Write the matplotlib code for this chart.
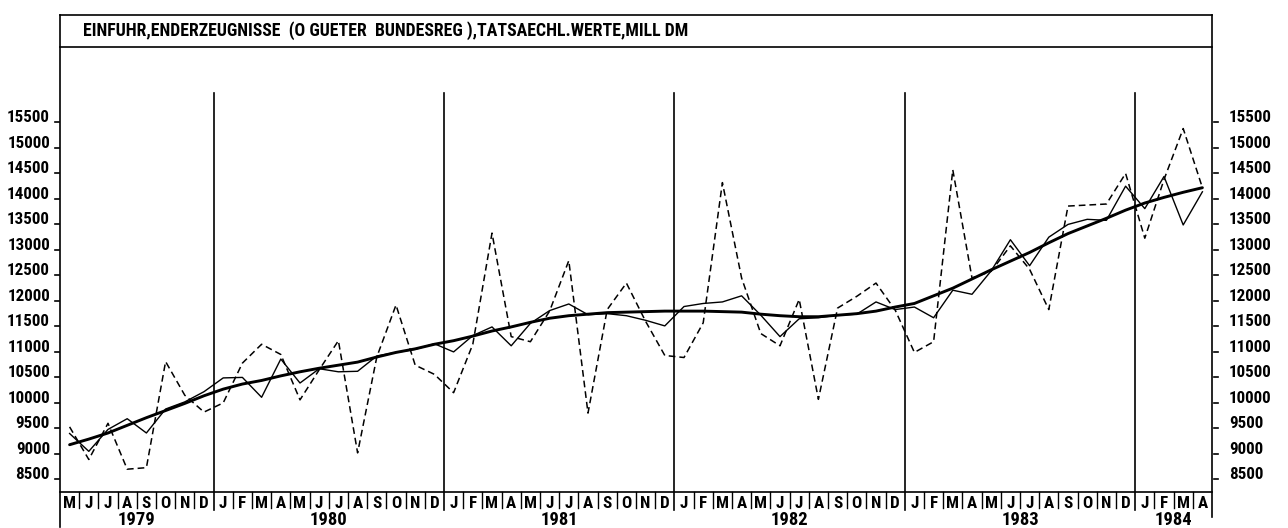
import numpy as np
import matplotlib
matplotlib.use("Agg")
import matplotlib.pyplot as plt
from matplotlib import font_manager as fm, transforms
from matplotlib.lines import Line2D

# ---------------- data ----------------
title = "EINFUHR,ENDERZEUGNISSE  (O GUETER  BUNDESREG ),TATSAECHL.WERTE,MILL DM"
month_labels = list("MJJASOND" + "JFMAMJJASOND" * 4 + "JFMA")
start_month = 5          # May 1979
years = [1979, 1980, 1981, 1982, 1983, 1984]
y_ticks = [8500, 9000, 9500, 10000, 10500, 11000, 11500, 12000,
           12500, 13000, 13500, 14000, 14500, 15000, 15500]

# actual values (dashed)
raw = [9530, 8890, 9600, 8700, 8730, 10810, 10150, 9820,
       10000, 10780, 11150, 10950, 10060, 10650, 11220, 9020, 10900, 11920, 10740, 10560,
       10200, 11150, 13330, 11300, 11200, 11800, 12790, 9800, 11830, 12350, 11600, 10930,
       10890, 11570, 14320, 12450, 11360, 11120, 12030, 10070, 11860, 12090, 12350, 11820,
       10990, 11200, 14570, 12450, 12580, 13080, 12620, 11830, 13860, 13880, 13900, 14500,
       13230, 14380, 15380, 14220]
# seasonally adjusted (thin solid)
adj = [9400, 9050, 9480, 9690, 9410, 9880, 10020, 10220,
       10490, 10500, 10110, 10860, 10390, 10670, 10610, 10620, 10920, 10990, 11050, 11160,
       11000, 11320, 11490, 11120, 11560, 11810, 11940, 11730, 11750, 11710, 11620, 11510,
       11890, 11950, 11980, 12100, 11720, 11300, 11650, 11670, 11720, 11740, 11980, 11830,
       11880, 11670, 12210, 12130, 12590, 13200, 12690, 13250, 13500, 13600, 13580, 14250,
       13810, 14440, 13490, 14140]
# trend (thick solid)
trend = [9180, 9290, 9410, 9560, 9710, 9850, 9990, 10140,
         10270, 10370, 10440, 10530, 10610, 10680, 10740, 10800, 10900, 10990, 11060, 11150,
         11220, 11310, 11410, 11490, 11580, 11660, 11710, 11740, 11770, 11780, 11790, 11800,
         11800, 11800, 11790, 11780, 11740, 11710, 11690, 11690, 11720, 11750, 11800, 11880,
         11950, 12100, 12250, 12430, 12610, 12780, 12950, 13140, 13320, 13470, 13620, 13780,
         13920, 14030, 14130, 14220]

# ---------------- font ----------------
def pick_font():
    fl = fm.fontManager.ttflist
    names = {f.name for f in fl}
    for n in ["Liberation Sans Narrow", "DejaVu Sans Condensed", "Roboto Condensed",
              "Open Sans Condensed", "Noto Sans Condensed", "Arial Narrow"]:
        if n in names:
            return dict(family=n)
    for fam in ["DejaVu Sans", "Noto Sans", "Open Sans", "Roboto", "Lato"]:
        for f in fl:
            if f.name == fam and str(f.stretch) in ("condensed", "semi-condensed",
                                                   "extra-condensed"):
                return dict(family=fam, stretch=str(f.stretch))
    return dict(family="DejaVu Sans")

FONT = pick_font()
FONT["fontweight"] = "bold"

# ---------------- figure ----------------
W, H = 1288, 528
fig = plt.figure(figsize=(W / 100, H / 100), dpi=100)
fig.patch.set_facecolor("white")

def fx(px):
    return px / W

def fy(py):
    return 1 - py / H

X0, X1 = 60, 1212          # left / right frame (px)
YB, YT = 492, 47           # bottom axis / title box bottom (px)
TB_TOP = 15                # title box top (px)
PX_PER_1000 = 50.97
V_AT_YB = 8500 - (YB - 479.4) / PX_PER_1000 * 1000
V_AT_YT = 15500 + (122.4 - YT) / PX_PER_1000 * 1000

ax = fig.add_axes([fx(X0), fy(YB), fx(X1) - fx(X0), fy(YT) - fy(YB)])
ax.set_xlim(0, len(month_labels))
ax.set_ylim(V_AT_YB, V_AT_YT)
ax.axis("off")

xs = np.arange(len(raw)) + 0.5
ax.plot(xs, raw, color="k", lw=1.1, ls=(0, (4.4, 2.6)))
ax.plot(xs, adj, color="k", lw=1.0)
ax.plot(xs, trend, color="k", lw=2.1, solid_capstyle="round")

def fline(xp, yp, lw=1.2):
    fig.add_artist(Line2D([fx(v) for v in xp], [fy(v) for v in yp],
                          transform=fig.transFigure, color="k", lw=lw))

# frame
fline([X0, X0], [TB_TOP, 527])
fline([X1, X1], [TB_TOP, 517])
fline([X0, X1], [TB_TOP, TB_TOP])
fline([X0, X1], [YT, YT])
fline([X0, X1], [YB, YB])

# title
fig.text(fx(83), fy(31), title, ha="left", va="center", fontsize=12, **FONT)

# x-axis: month cells, year lines, labels
bx = transforms.blended_transform_factory(ax.transData, fig.transFigure)
month_num = [(start_month - 1 + i) % 12 + 1 for i in range(len(month_labels))]
for i in range(1, len(month_labels)):
    if month_num[i] == 1:
        fig.add_artist(Line2D([i, i], [fy(93), fy(510)], transform=bx, color="k", lw=1.2))
    else:
        fig.add_artist(Line2D([i, i], [fy(YB), fy(508)], transform=bx, color="k", lw=1.0))

month_texts = []
for i, m in enumerate(month_labels):
    month_texts.append(fig.text(i + 0.5, fy(503.5), m, transform=bx, ha="center",
                                va="center", fontsize=10, **FONT))

year_texts = []
for yr in years:
    idx = [i for i in range(len(month_labels))
           if (1979 * 12 + start_month - 1 + i) // 12 == yr]
    xc = (idx[0] + idx[-1] + 1) / 2
    year_texts.append(fig.text(xc, fy(520), str(yr), transform=bx, ha="center",
                               va="center", fontsize=10, **FONT))

# y-axis ticks and labels (both sides)
by = transforms.blended_transform_factory(fig.transFigure, ax.transData)
ytexts = []
for v in y_ticks:
    fig.add_artist(Line2D([fx(55), fx(59)], [v, v], transform=by, color="k", lw=1.2))
    fig.add_artist(Line2D([fx(1214), fx(1218)], [v, v], transform=by, color="k", lw=1.2))
    ytexts.append(fig.text(fx(50), v, f"{v}", transform=by, ha="right",
                           va="baseline", fontsize=10, **FONT))
    ytexts.append(fig.text(fx(1229), v, f"{v}", transform=by, ha="left",
                           va="baseline", fontsize=10, **FONT))

# fit text sizes to the reference widths
fig.canvas.draw()
r = fig.canvas.get_renderer()
ttl = fig.texts[0]
w = ttl.get_window_extent(r).width
ttl.set_fontsize(ttl.get_fontsize() * 607 / w)
w = ytexts[-1].get_window_extent(r).width      # "15500" -> 43 px
fs = ytexts[-1].get_fontsize() * 43 / w
for t in ytexts + month_texts:
    t.set_fontsize(fs)
w = year_texts[0].get_window_extent(r).width   # "1979" -> 38 px
fsy = year_texts[0].get_fontsize() * 38 / w
for t in year_texts:
    t.set_fontsize(fsy)

fig.savefig("out.png", dpi=100, facecolor="white")
